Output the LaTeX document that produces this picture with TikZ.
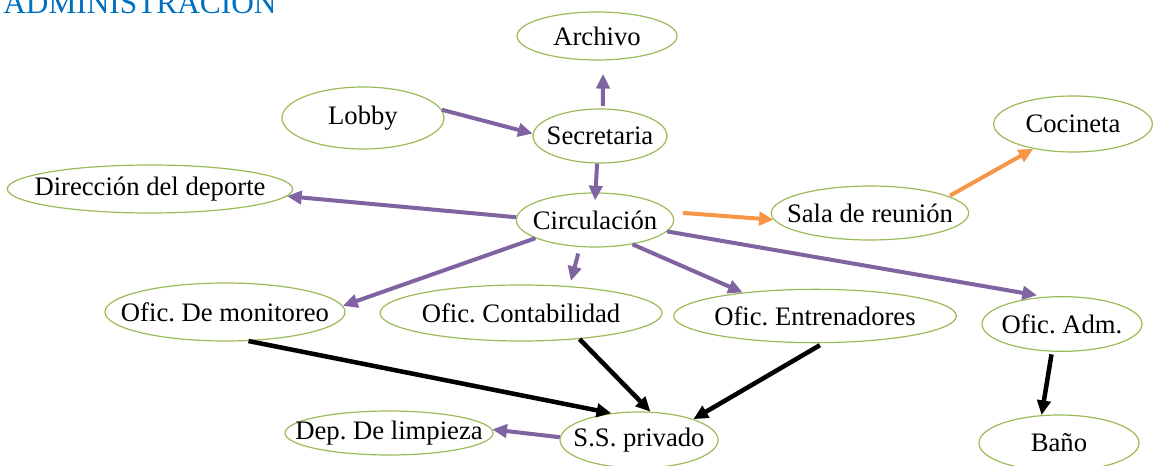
\documentclass[tikz,border=0pt]{standalone}
\usepackage{fontspec}
\setmainfont{Liberation Serif}
\usetikzlibrary{arrows.meta,shapes.geometric}
\definecolor{Leaf}{HTML}{9BBB59}
\definecolor{Lilac}{HTML}{8064A2}
\definecolor{Amber}{HTML}{F79646}
\definecolor{Sky}{HTML}{0070C0}
\frenchspacing
\newcommand{\rl}[1]{\makebox[0pt]{#1}}
\tikzset{
  >={Triangle[length=11pt,width=10pt]},
  room/.style 2 args={ellipse,draw=Leaf,line width=.9pt,fill=white,minimum width=#1,minimum height=#2,inner sep=0pt,font=\fontsize{20}{22}\selectfont},
  flow/.style={->,line width=3pt,draw=Lilac},
  warm/.style={flow,draw=Amber},
  dark/.style={flow,draw=black,line width=3.4pt},
  title/.style={anchor=base west,inner sep=0pt,text=Sky,font=\fontsize{23.5}{26}\selectfont}
}
\begin{document}
\begin{tikzpicture}[x=.75pt,y=-.75pt]
  \useasboundingbox (0,0) rectangle (1159,466);
  \node[title] (head) at (3,14) {ADMINISTRACION};
  % rooms
  \node[room={120pt}{36pt}] (arch) at (597,36) {\rl{Archivo}};
  \node[room={121.5pt}{46.5pt}] (lobby) at (363,118) {\rl{Lobby}};
  \node[room={100.5pt}{40.5pt}] (sec) at (600,136) {\rl{Secretaria}};
  \node[room={118pt}{40.5pt}] (circ) at (595,220) {\rl{Circulación}};
  \node[room={214pt}{36pt}] (dir) at (150,189) {\rl{Dirección del deporte}};
  \node[room={148pt}{40.5pt}] (sala) at (870,213) {\rl{Sala de reunión}};
  \node[room={119pt}{42pt}] (coc) at (1073,124) {\rl{Cocineta}};
  \node[room={180pt}{43.5pt}] (mon) at (225,312) {\rl{Ofic. De monitoreo}};
  \node[room={211.5pt}{42pt}] (cont) at (521,313) {\rl{Ofic. Contabilidad}};
  \node[room={212pt}{40pt}] (ent) at (815,316) {\rl{Ofic. Entrenadores}};
  \node[room={120pt}{41pt}] (adm) at (1062,324) {\rl{Ofic. Adm.}};
  \node[room={120pt}{42pt}] (bano) at (1059,443) {\rl{Baño}};
  \node[room={118.5pt}{42pt}] (ss) at (639,440) {\rl{S.S. privado}};
  \node[room={156pt}{33pt}] (dep) at (389,433) {\rl{Dep. De limpieza}};
  % connectors
  \draw[flow,shorten <=2pt,shorten >=10pt] (sec.84) -- (arch.-76);
  \draw[flow] (lobby.6) -- (sec.178);
  \draw[flow,shorten >=-6pt] (sec.264) -- (circ.89);
  \draw[flow] (circ.178) -- (dir.-3);
  \draw[warm,shorten <=9pt] (circ.6) -- (sala.184);
  \draw[warm,shorten <=1pt] (sala.12) -- (coc.212);
  \draw[flow] (circ.197) -- (mon.3);
  \draw[flow,shorten <=5pt,shorten >=4pt] (circ.241) -- (cont.29);
  \draw[flow] (circ.-33) -- (ent.162);
  \draw[flow,shorten >=6pt] (circ.-9) -- (adm.122);
  \draw[dark] (mon.-51) -- (ss.136);
  \draw[dark] (cont.-24) -- (ss.68);
  \draw[dark,shorten <=3pt] (ent.-73) -- (ss.21);
  \draw[dark,shorten <=2pt] (adm.-110) -- (bano.122);
  \draw[flow] (ss.178) -- (dep.2);
\end{tikzpicture}
\end{document}
